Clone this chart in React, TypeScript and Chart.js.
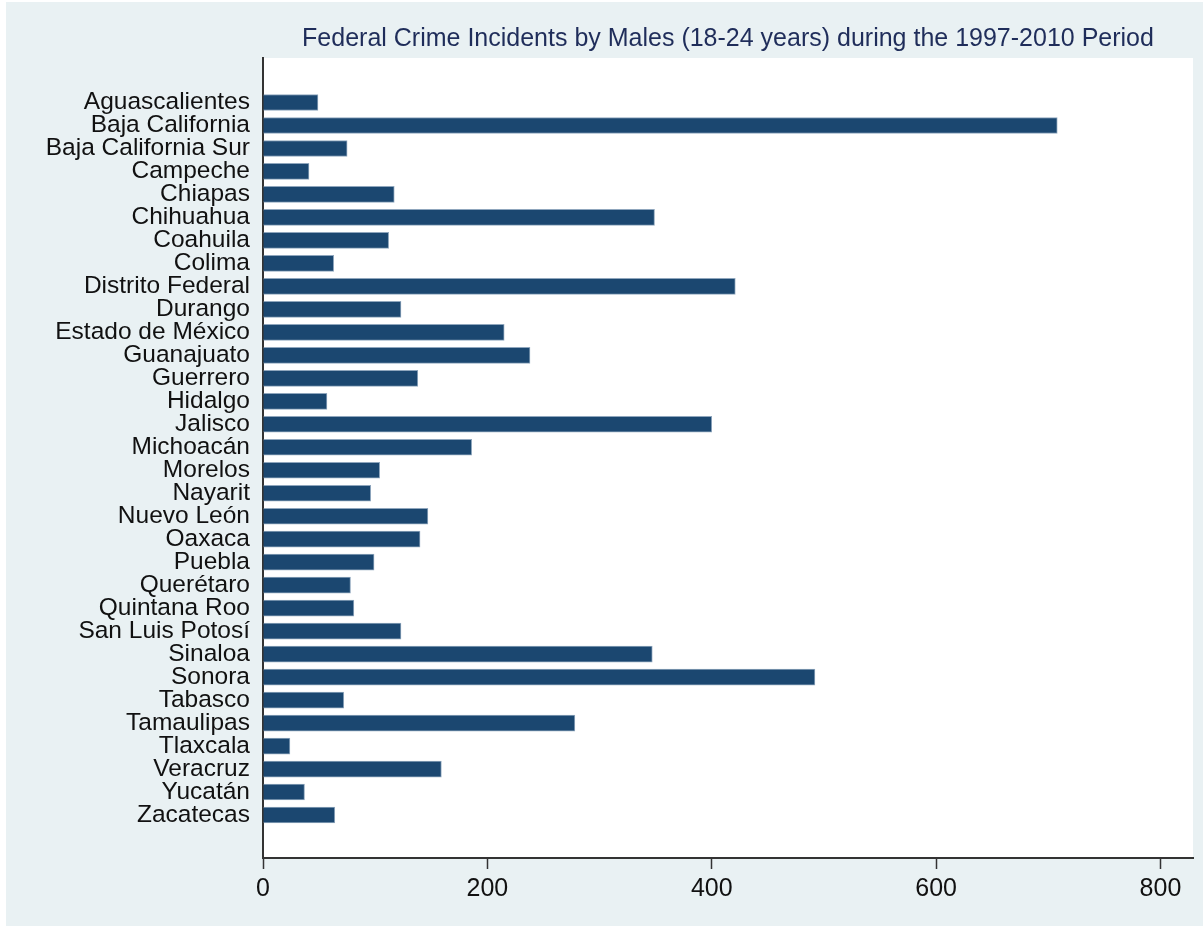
import React, { useEffect, useRef } from "react";
import { Chart, registerables } from "chart.js";

Chart.register(...registerables);

const states: string[] = [
  "Aguascalientes",
  "Baja California",
  "Baja California Sur",
  "Campeche",
  "Chiapas",
  "Chihuahua",
  "Coahuila",
  "Colima",
  "Distrito Federal",
  "Durango",
  "Estado de México",
  "Guanajuato",
  "Guerrero",
  "Hidalgo",
  "Jalisco",
  "Michoacán",
  "Morelos",
  "Nayarit",
  "Nuevo León",
  "Oaxaca",
  "Puebla",
  "Querétaro",
  "Quintana Roo",
  "San Luis Potosí",
  "Sinaloa",
  "Sonora",
  "Tabasco",
  "Tamaulipas",
  "Tlaxcala",
  "Veracruz",
  "Yucatán",
  "Zacatecas",
];

const incidents: number[] = [
  49, 708, 75, 41, 117, 349, 112, 63, 421, 123, 215, 238, 138, 57, 400, 186,
  104, 96, 147, 140, 99, 78, 81, 123, 347, 492, 72, 278, 24, 159, 37, 64,
];

const xTicks: number[] = [0, 200, 400, 600, 800];

const titleText =
  "Federal Crime Incidents by Males (18-24 years) during the 1997-2010 Period";

const FONT = "'Liberation Sans', Arial, sans-serif";
const PAGE_BG = "#E9F1F3";

// Paints the outer panel and the white plotting region behind the bars.
const backgroundPlugin = {
  id: "panelBackground",
  beforeDraw(chart: any) {
    const { ctx, width, height, chartArea } = chart;
    ctx.save();
    ctx.fillStyle = "#ffffff";
    ctx.fillRect(0, 0, width, height);
    ctx.fillStyle = PAGE_BG;
    ctx.fillRect(6, 2, width - 6, height - 2);
    ctx.fillStyle = "#ffffff";
    ctx.fillRect(
      chartArea.left,
      chartArea.top,
      chartArea.right - chartArea.left,
      chartArea.bottom - chartArea.top
    );
    ctx.restore();
  },
};

export default function App() {
  const canvasRef = useRef<HTMLCanvasElement | null>(null);

  useEffect(() => {
    if (!canvasRef.current) return;
    const chart = new Chart(canvasRef.current, {
      type: "bar",
      data: {
        datasets: [
          {
            data: incidents.map((v, i) => ({ x: v, y: i })),
            backgroundColor: "#1B4770",
            borderColor: "#8FA6BD",
            borderWidth: 1,
            barThickness: 16,
          },
        ],
      },
      options: {
        indexAxis: "y",
        responsive: false,
        animation: false,
        layout: { padding: { left: 0, right: 10, top: 0, bottom: 0 } },
        plugins: {
          legend: { display: false },
          tooltip: { enabled: false },
          title: {
            display: true,
            text: titleText,
            fullSize: false,
            color: "#1F2D5A",
            font: { family: FONT, size: 25, weight: "normal" },
            padding: { top: 24, bottom: 4 },
          },
        },
        scales: {
          x: {
            type: "linear",
            min: 0,
            max: 829,
            offset: false,
            afterBuildTicks: (scale: any) => {
              scale.ticks = xTicks.map((v) => ({ value: v }));
            },
            afterFit: (scale: any) => {
              scale.height = 68;
            },
            grid: {
              drawOnChartArea: false,
              drawTicks: true,
              tickLength: 11,
              tickWidth: 1.5,
              tickColor: "#333333",
            },
            border: { display: true, color: "#333333", width: 2 },
            ticks: {
              color: "#111111",
              padding: 5,
              font: { family: FONT, size: 25 },
              maxRotation: 0,
            },
          },
          y: {
            type: "linear",
            reverse: true,
            offset: false,
            min: -1.936,
            max: 32.87,
            afterBuildTicks: (scale: any) => {
              scale.ticks = states.map((_, i) => ({ value: i }));
            },
            afterFit: (scale: any) => {
              scale.width = 263;
            },
            grid: { display: false, drawTicks: false, offset: false },
            border: { display: true, color: "#333333", width: 2 },
            ticks: {
              autoSkip: false,
              color: "#111111",
              padding: 13,
              font: { family: FONT, size: 24.5 },
              callback: (v: any) => states[Number(v)] ?? "",
            },
          },
        },
      },
      plugins: [backgroundPlugin],
    } as any);
    return () => chart.destroy();
  }, []);

  return (
    <div style={{ position: "absolute", left: 0, top: 0, width: 1203, height: 926 }}>
      <canvas ref={canvasRef} width={1203} height={926} style={{ display: "block" }} />
    </div>
  );
}
